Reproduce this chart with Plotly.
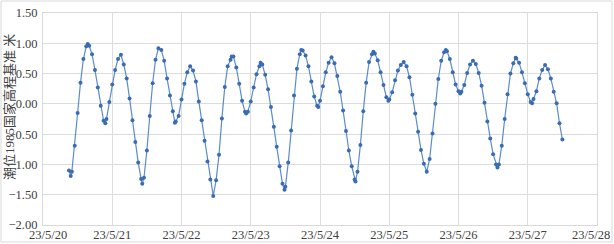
import pandas as pd
import plotly.graph_objects as go

# Hourly tide levels (m, 1985 national height datum), starting 2023-05-20 09:00
start_time = "2023-05-20 09:00"
hourly_levels = [
    -1.10, -1.12, -0.69, -0.15, 0.35, 0.74, 0.95, 0.96, 0.82, 0.56,
    0.27, -0.03, -0.28, -0.25, 0.03, 0.32, 0.56, 0.74, 0.81, 0.65,
    0.42, 0.09, -0.27, -0.63, -0.97, -1.24, -1.22, -0.77, -0.20, 0.34,
    0.73, 0.92, 0.89, 0.71, 0.42, 0.14, -0.12, -0.29, -0.20, 0.07,
    0.33, 0.52, 0.62, 0.55, 0.37, 0.04, -0.27, -0.61, -0.95, -1.25,
    -1.52, -1.26, -0.84, -0.24, 0.28, 0.62, 0.73, 0.78, 0.60, 0.33,
    0.05, -0.13, -0.13, 0.04, 0.27, 0.49, 0.62, 0.65, 0.48, 0.24,
    -0.05, -0.38, -0.71, -1.03, -1.32, -1.37, -0.97, -0.44, 0.14, 0.58,
    0.82, 0.88, 0.80, 0.62, 0.37, 0.12, -0.03, 0.05, 0.29, 0.52,
    0.68, 0.77, 0.67, 0.46, 0.20, -0.11, -0.45, -0.77, -1.03, -1.25,
    -1.12, -0.68, -0.12, 0.35, 0.69, 0.82, 0.83, 0.72, 0.52, 0.31,
    0.11, 0.07, 0.19, 0.39, 0.55, 0.64, 0.69, 0.62, 0.44, 0.15,
    -0.16, -0.46, -0.76, -0.99, -1.12, -0.91, -0.49, 0.00, 0.41, 0.71,
    0.85, 0.87, 0.74, 0.52, 0.32, 0.21, 0.20, 0.31, 0.51, 0.65,
    0.71, 0.66, 0.51, 0.30, 0.02, -0.29, -0.57, -0.83, -1.00, -1.00,
    -0.69, -0.25, 0.16, 0.50, 0.67, 0.75, 0.68, 0.52, 0.34, 0.16,
    0.03, 0.08, 0.21, 0.42, 0.56, 0.64, 0.57, 0.42, 0.20, 0.01,
    -0.32, -0.59,
]

# High / low water extremes inserted between hourly readings
extreme_times = [
    "2023-05-20 09:36", "2023-05-20 15:30", "2023-05-20 21:36",
    "2023-05-21 10:24", "2023-05-21 21:42", "2023-05-22 17:24",
    "2023-05-22 22:24", "2023-05-23 03:24", "2023-05-23 11:42",
    "2023-05-23 17:30", "2023-05-23 23:24", "2023-05-24 12:18",
    "2023-05-24 18:30", "2023-05-24 23:42", "2023-05-25 19:36",
    "2023-05-26 00:36", "2023-05-26 13:30", "2023-05-26 19:48",
    "2023-05-27 01:30",
]
extreme_levels = [
    -1.19, 0.99, -0.32,
    -1.32, -0.31, 0.78,
    -0.16, 0.68, -1.42,
    0.89, -0.05, -1.28,
    0.86, 0.05, 0.89,
    0.17, -1.05, 0.76,
    0.01,
]

x_tick_dates = ["2023-05-20", "2023-05-21", "2023-05-22", "2023-05-23", "2023-05-24",
                "2023-05-25", "2023-05-26", "2023-05-27", "2023-05-28"]
x_tick_labels = ["23/5/20", "23/5/21", "23/5/22", "23/5/23", "23/5/24",
                 "23/5/25", "23/5/26", "23/5/27", "23/5/28"]
y_title = "潮位1985国家高程基准 米"

hourly_times = pd.date_range(start_time, periods=len(hourly_levels), freq="h")
df = pd.concat([
    pd.DataFrame({"t": hourly_times, "v": hourly_levels}),
    pd.DataFrame({"t": pd.to_datetime(extreme_times), "v": extreme_levels}),
]).sort_values("t")

font_family = "Liberation Serif"
title_family = "Liberation Serif, Noto Sans CJK SC"
text_color = "#404040"

# Interior date labels are axis tick labels; the two edge labels are pulled
# inside the frame (as in the original) and drawn as anchored annotations.
inner_labels = [""] + x_tick_labels[1:-1] + [""]

fig = go.Figure()
fig.add_trace(go.Scatter(
    x=df["t"], y=df["v"], mode="lines+markers",
    line=dict(color="#5B8BCB", width=1.2),
    marker=dict(color="#3A6CB4", size=4, symbol="circle"),
    showlegend=False, hoverinfo="skip",
))

axis_common = dict(
    showgrid=True, gridcolor="#DCDCDC", gridwidth=1,
    showline=True, linecolor="#D9D9D9", linewidth=1, mirror=True,
    ticks="", zeroline=False, automargin=False,
    tickfont=dict(family=font_family, size=12.5, color=text_color),
)

edge_font = dict(family=font_family, size=12.5, color=text_color)

fig.update_layout(
    width=614, height=244,
    margin=dict(l=43, r=17, t=13, b=19),
    paper_bgcolor="white", plot_bgcolor="white",
    font=dict(family=font_family, color=text_color),
    xaxis=dict(
        range=["2023-05-20", "2023-05-28"],
        tickvals=x_tick_dates, ticktext=inner_labels,
        ticklabelstandoff=-2, ticklabeloverflow="allow",
        **axis_common,
    ),
    yaxis=dict(
        range=[-2.0, 1.5], dtick=0.5, tick0=-2.0, tickformat=".2f",
        ticklabelstandoff=2,
        **axis_common,
    ),
    annotations=[
        dict(
            text=y_title, textangle=-90, showarrow=False,
            xref="paper", yref="paper", x=-0.0595, y=0.557,
            xanchor="center", yanchor="middle",
            font=dict(family=title_family, size=13, color=text_color),
        ),
        dict(
            text=x_tick_labels[0], showarrow=False,
            xref="paper", yref="paper", x=-0.0271, y=-0.046,
            xanchor="left", yanchor="middle", borderpad=0, font=edge_font,
        ),
        dict(
            text=x_tick_labels[-1], showarrow=False,
            xref="paper", yref="paper", x=1.0253, y=-0.046,
            xanchor="right", yanchor="middle", borderpad=0, font=edge_font,
        ),
    ],
    shapes=[dict(
        type="rect", xref="paper", yref="paper",
        x0=-0.0758, x1=1.0271, y0=-0.080, y1=1.0566,
        line=dict(color="#D9D9D9", width=1), layer="below",
    )],
)

fig.write_html("out.html", config={"displayModeBar": False, "staticPlot": True})

# Remove the browser's default page margin so the chart fills the window exactly
with open("out.html", "r", encoding="utf-8") as f:
    html = f.read()
html = html.replace("<head>", "<head><style>html,body{margin:0;padding:0;overflow:hidden;}</style>", 1)
with open("out.html", "w", encoding="utf-8") as f:
    f.write(html)
